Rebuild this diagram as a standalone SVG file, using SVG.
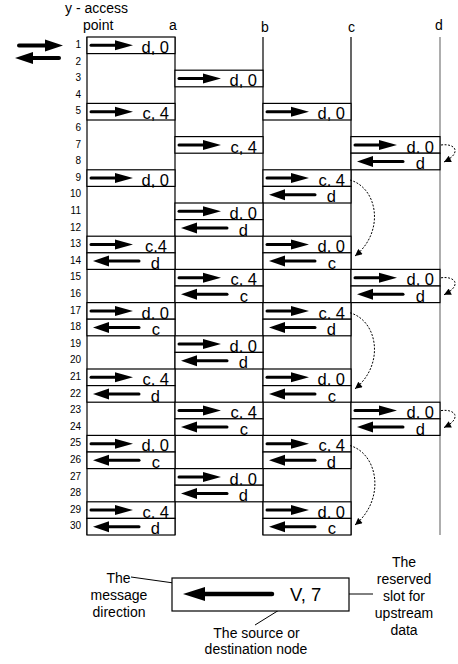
<svg xmlns="http://www.w3.org/2000/svg" xmlns:xlink="http://www.w3.org/1999/xlink" width="458" height="664" viewBox="0 0 458 664">
<style>
text{font-family:"Liberation Sans",Arial,sans-serif;fill:#000}
.bx{fill:#fff;stroke:#000;stroke-width:1.2}
.t{font-size:16.5px;text-anchor:end}
.n{font-size:10px;text-anchor:end}
.h{font-size:14px}
.lg{font-size:14px;text-anchor:middle}
.vl{stroke:#000;stroke-width:1.2}
.dl{stroke:#777;stroke-width:1.2}
.dot{fill:none;stroke:#000;stroke-width:1;stroke-dasharray:2,1.5}
.an{fill:none;stroke:#000;stroke-width:1}
</style>
<defs>
<g id="R"><line x1="4" y1="0" x2="30" y2="0" stroke="#000" stroke-width="3" stroke-linecap="round"/><polygon points="28,-5 46,0 28,5" fill="#000"/></g>
<g id="L"><line x1="20" y1="0" x2="52" y2="0" stroke="#000" stroke-width="3" stroke-linecap="round"/><polygon points="6,0 22,-5.5 22,5.5" fill="#000"/></g>
<marker id="ah" viewBox="0 0 10 10" refX="10" refY="5" markerWidth="9" markerHeight="7" markerUnits="userSpaceOnUse" orient="auto"><path d="M0,0 L10,5 L0,10 z" fill="#000"/></marker>
<marker id="dh" viewBox="0 0 10 10" refX="10" refY="5" markerWidth="8" markerHeight="7" markerUnits="userSpaceOnUse" orient="auto"><path d="M0,0 L10,5 L0,10 z" fill="#000"/></marker>
</defs>

<g id="headers">
<text class="h" x="65" y="12.5">y - access</text>
<text class="h" x="83" y="29.5">point</text>
<text class="h" x="169" y="29.5">a</text>
<text class="h" x="261" y="31.5">b</text>
<text class="h" x="348" y="31.5">c</text>
<text class="h" x="435" y="29.5">d</text>
</g>

<g id="big-arrows">
<line x1="19" y1="45.5" x2="47" y2="45.5" stroke="#000" stroke-width="4" stroke-linecap="round"/><polygon points="45,39.5 63,45.5 45,51.5" fill="#000"/>
<line x1="31" y1="58" x2="59" y2="58" stroke="#000" stroke-width="4" stroke-linecap="round"/><polygon points="15,58 33,52 33,64" fill="#000"/>
</g>

<g id="row-labels">
<text class="n" x="81" y="47.9">1</text><text class="n" x="81" y="64.5">2</text><text class="n" x="81" y="81.1">3</text><text class="n" x="81" y="97.7">4</text><text class="n" x="81" y="114.3">5</text><text class="n" x="81" y="130.9">6</text><text class="n" x="81" y="147.5">7</text><text class="n" x="81" y="164.1">8</text><text class="n" x="81" y="180.7">9</text><text class="n" x="81" y="197.3">10</text><text class="n" x="81" y="213.9">11</text><text class="n" x="81" y="230.5">12</text><text class="n" x="81" y="247.1">13</text><text class="n" x="81" y="263.7">14</text><text class="n" x="81" y="280.3">15</text><text class="n" x="81" y="296.9">16</text><text class="n" x="81" y="313.5">17</text><text class="n" x="81" y="330.1">18</text><text class="n" x="81" y="346.7">19</text><text class="n" x="81" y="363.3">20</text><text class="n" x="81" y="379.9">21</text><text class="n" x="81" y="396.5">22</text><text class="n" x="81" y="413.1">23</text><text class="n" x="81" y="429.7">24</text><text class="n" x="81" y="446.3">25</text><text class="n" x="81" y="462.9">26</text><text class="n" x="81" y="479.5">27</text><text class="n" x="81" y="496.1">28</text><text class="n" x="81" y="512.7">29</text><text class="n" x="81" y="529.3">30</text>
</g>

<g id="lines">
<line class="vl" x1="87" y1="37" x2="87" y2="535"/>
<line class="vl" x1="175" y1="37" x2="175" y2="535"/>
<line class="vl" x1="263" y1="37" x2="263" y2="535"/>
<line class="vl" x1="351" y1="37" x2="351" y2="535"/>
<line class="dl" x1="440" y1="37" x2="440" y2="535"/>
</g>

<g id="r1c0"><rect class="bx" x="87" y="37" width="88" height="16.6"/><use xlink:href="#R" x="87" y="45.3"/><text class="t" x="169" y="53">d, 0</text></g>
<g id="r3c1"><rect class="bx" x="175" y="70.2" width="88" height="16.6"/><use xlink:href="#R" x="175" y="78.5"/><text class="t" x="257" y="86.2">d, 0</text></g>
<g id="r5c0"><rect class="bx" x="87" y="103.4" width="88" height="16.6"/><use xlink:href="#R" x="87" y="111.7"/><text class="t" x="169" y="119.4">c, 4</text></g>
<g id="r5c2"><rect class="bx" x="263" y="103.4" width="88" height="16.6"/><use xlink:href="#R" x="263" y="111.7"/><text class="t" x="345" y="119.4">d, 0</text></g>
<g id="r7c1"><rect class="bx" x="175" y="136.6" width="88" height="16.6"/><use xlink:href="#R" x="175" y="144.9"/><text class="t" x="257" y="152.6">c, 4</text></g>
<g id="r7c3"><rect class="bx" x="351" y="136.6" width="89" height="16.6"/><use xlink:href="#R" x="351" y="144.9"/><text class="t" x="434" y="152.6">d, 0</text></g>
<g id="r8c3"><rect class="bx" x="351" y="153.2" width="89" height="16.6"/><use xlink:href="#L" x="351" y="161.5"/><text class="t" x="425" y="169.2">d</text></g>
<g id="r9c0"><rect class="bx" x="87" y="169.8" width="88" height="16.6"/><use xlink:href="#R" x="87" y="178.1"/><text class="t" x="169" y="185.8">d, 0</text></g>
<g id="r9c2"><rect class="bx" x="263" y="169.8" width="88" height="16.6"/><use xlink:href="#R" x="263" y="178.1"/><text class="t" x="345" y="185.8">c, 4</text></g>
<g id="r10c2"><rect class="bx" x="263" y="186.4" width="88" height="16.6"/><use xlink:href="#L" x="263" y="194.7"/><text class="t" x="336" y="202.4">d</text></g>
<g id="r11c1"><rect class="bx" x="175" y="203" width="88" height="16.6"/><use xlink:href="#R" x="175" y="211.3"/><text class="t" x="257" y="219">d, 0</text></g>
<g id="r12c1"><rect class="bx" x="175" y="219.6" width="88" height="16.6"/><use xlink:href="#L" x="175" y="227.9"/><text class="t" x="248" y="235.6">d</text></g>
<g id="r13c0"><rect class="bx" x="87" y="236.2" width="88" height="16.6"/><use xlink:href="#R" x="87" y="244.5"/><text class="t" x="167" y="252.2">c,4</text></g>
<g id="r13c2"><rect class="bx" x="263" y="236.2" width="88" height="16.6"/><use xlink:href="#R" x="263" y="244.5"/><text class="t" x="345" y="252.2">d, 0</text></g>
<g id="r14c0"><rect class="bx" x="87" y="252.8" width="88" height="16.6"/><use xlink:href="#L" x="87" y="261.1"/><text class="t" x="160" y="268.8">d</text></g>
<g id="r14c2"><rect class="bx" x="263" y="252.8" width="88" height="16.6"/><use xlink:href="#L" x="263" y="261.1"/><text class="t" x="336" y="268.8">c</text></g>
<g id="r15c1"><rect class="bx" x="175" y="269.4" width="88" height="16.6"/><use xlink:href="#R" x="175" y="277.7"/><text class="t" x="257" y="285.4">c, 4</text></g>
<g id="r15c3"><rect class="bx" x="351" y="269.4" width="89" height="16.6"/><use xlink:href="#R" x="351" y="277.7"/><text class="t" x="434" y="285.4">d, 0</text></g>
<g id="r16c1"><rect class="bx" x="175" y="286" width="88" height="16.6"/><use xlink:href="#L" x="175" y="294.3"/><text class="t" x="248" y="302">c</text></g>
<g id="r16c3"><rect class="bx" x="351" y="286" width="89" height="16.6"/><use xlink:href="#L" x="351" y="294.3"/><text class="t" x="425" y="302">d</text></g>
<g id="r17c0"><rect class="bx" x="87" y="302.6" width="88" height="16.6"/><use xlink:href="#R" x="87" y="310.9"/><text class="t" x="169" y="318.6">d, 0</text></g>
<g id="r17c2"><rect class="bx" x="263" y="302.6" width="88" height="16.6"/><use xlink:href="#R" x="263" y="310.9"/><text class="t" x="345" y="318.6">c, 4</text></g>
<g id="r18c0"><rect class="bx" x="87" y="319.2" width="88" height="16.6"/><use xlink:href="#L" x="87" y="327.5"/><text class="t" x="160" y="335.2">c</text></g>
<g id="r18c2"><rect class="bx" x="263" y="319.2" width="88" height="16.6"/><use xlink:href="#L" x="263" y="327.5"/><text class="t" x="336" y="335.2">d</text></g>
<g id="r19c1"><rect class="bx" x="175" y="335.8" width="88" height="16.6"/><use xlink:href="#R" x="175" y="344.1"/><text class="t" x="257" y="351.8">d, 0</text></g>
<g id="r20c1"><rect class="bx" x="175" y="352.4" width="88" height="16.6"/><use xlink:href="#L" x="175" y="360.7"/><text class="t" x="248" y="368.4">d</text></g>
<g id="r21c0"><rect class="bx" x="87" y="369" width="88" height="16.6"/><use xlink:href="#R" x="87" y="377.3"/><text class="t" x="169" y="385">c, 4</text></g>
<g id="r21c2"><rect class="bx" x="263" y="369" width="88" height="16.6"/><use xlink:href="#R" x="263" y="377.3"/><text class="t" x="345" y="385">d, 0</text></g>
<g id="r22c0"><rect class="bx" x="87" y="385.6" width="88" height="16.6"/><use xlink:href="#L" x="87" y="393.9"/><text class="t" x="160" y="401.6">d</text></g>
<g id="r22c2"><rect class="bx" x="263" y="385.6" width="88" height="16.6"/><use xlink:href="#L" x="263" y="393.9"/><text class="t" x="336" y="401.6">c</text></g>
<g id="r23c1"><rect class="bx" x="175" y="402.2" width="88" height="16.6"/><use xlink:href="#R" x="175" y="410.5"/><text class="t" x="257" y="418.2">c, 4</text></g>
<g id="r23c3"><rect class="bx" x="351" y="402.2" width="89" height="16.6"/><use xlink:href="#R" x="351" y="410.5"/><text class="t" x="434" y="418.2">d, 0</text></g>
<g id="r24c1"><rect class="bx" x="175" y="418.8" width="88" height="16.6"/><use xlink:href="#L" x="175" y="427.1"/><text class="t" x="248" y="434.8">c</text></g>
<g id="r24c3"><rect class="bx" x="351" y="418.8" width="89" height="16.6"/><use xlink:href="#L" x="351" y="427.1"/><text class="t" x="425" y="434.8">d</text></g>
<g id="r25c0"><rect class="bx" x="87" y="435.4" width="88" height="16.6"/><use xlink:href="#R" x="87" y="443.7"/><text class="t" x="169" y="451.4">d, 0</text></g>
<g id="r25c2"><rect class="bx" x="263" y="435.4" width="88" height="16.6"/><use xlink:href="#R" x="263" y="443.7"/><text class="t" x="345" y="451.4">c, 4</text></g>
<g id="r26c0"><rect class="bx" x="87" y="452" width="88" height="16.6"/><use xlink:href="#L" x="87" y="460.3"/><text class="t" x="160" y="468">c</text></g>
<g id="r26c2"><rect class="bx" x="263" y="452" width="88" height="16.6"/><use xlink:href="#L" x="263" y="460.3"/><text class="t" x="336" y="468">d</text></g>
<g id="r27c1"><rect class="bx" x="175" y="468.6" width="88" height="16.6"/><use xlink:href="#R" x="175" y="476.9"/><text class="t" x="257" y="484.6">d, 0</text></g>
<g id="r28c1"><rect class="bx" x="175" y="485.2" width="88" height="16.6"/><use xlink:href="#L" x="175" y="493.5"/><text class="t" x="248" y="501.2">d</text></g>
<g id="r29c0"><rect class="bx" x="87" y="501.8" width="88" height="16.6"/><use xlink:href="#R" x="87" y="510.1"/><text class="t" x="169" y="517.8">c, 4</text></g>
<g id="r29c2"><rect class="bx" x="263" y="501.8" width="88" height="16.6"/><use xlink:href="#R" x="263" y="510.1"/><text class="t" x="345" y="517.8">d, 0</text></g>
<g id="r30c0"><rect class="bx" x="87" y="518.4" width="88" height="16.6"/><use xlink:href="#L" x="87" y="526.7"/><text class="t" x="160" y="534.4">d</text></g>
<g id="r30c2"><rect class="bx" x="263" y="518.4" width="88" height="16.6"/><use xlink:href="#L" x="263" y="526.7"/><text class="t" x="336" y="534.4">c</text></g>

<g id="connectors">
<path class="dot" d="M441,145 C456,143 462,153 444,162" marker-end="url(#dh)"/>
<path class="dot" d="M441,277.8 C456,275.8 462,285.8 444,294.8" marker-end="url(#dh)"/>
<path class="dot" d="M441,410.6 C456,408.6 462,418.6 444,427.6" marker-end="url(#dh)"/>
<path class="dot" d="M350,180 C378,188 385,232 355,256" marker-end="url(#dh)"/>
<path class="dot" d="M350,312.8 C378,320.8 385,364.8 355,388.8" marker-end="url(#dh)"/>
<path class="dot" d="M350,445.6 C378,453.6 386,499 355,525" marker-end="url(#dh)"/>
<line class="an" x1="131" y1="577" x2="188" y2="585" marker-end="url(#ah)"/>
<line class="an" x1="255" y1="625" x2="292" y2="602" marker-end="url(#ah)"/>
<line class="an" x1="373" y1="594" x2="332" y2="594" marker-end="url(#ah)"/>
</g>

<g id="legend">
<rect class="bx" x="172" y="578" width="177" height="33"/>
<line x1="203" y1="594" x2="272" y2="594" stroke="#000" stroke-width="4.5" stroke-linecap="round"/>
<polygon points="183,594 205,587 205,601" fill="#000"/>
<text x="290" y="600.5" style="font-size:18.5px">V, 7</text>
</g>

<g id="legend-notes">
<text class="lg" x="118.5" y="583">The</text>
<text class="lg" x="119" y="600">message</text>
<text class="lg" x="119" y="617">direction</text>
<text class="lg" x="256.5" y="638">The source or</text>
<text class="lg" x="256" y="654">destination node</text>
<text class="lg" x="404" y="567">The</text>
<text class="lg" x="404" y="584">reserved</text>
<text class="lg" x="404" y="601">slot for</text>
<text class="lg" x="404" y="618">upstream</text>
<text class="lg" x="404" y="635">data</text>
</g>
</svg>
